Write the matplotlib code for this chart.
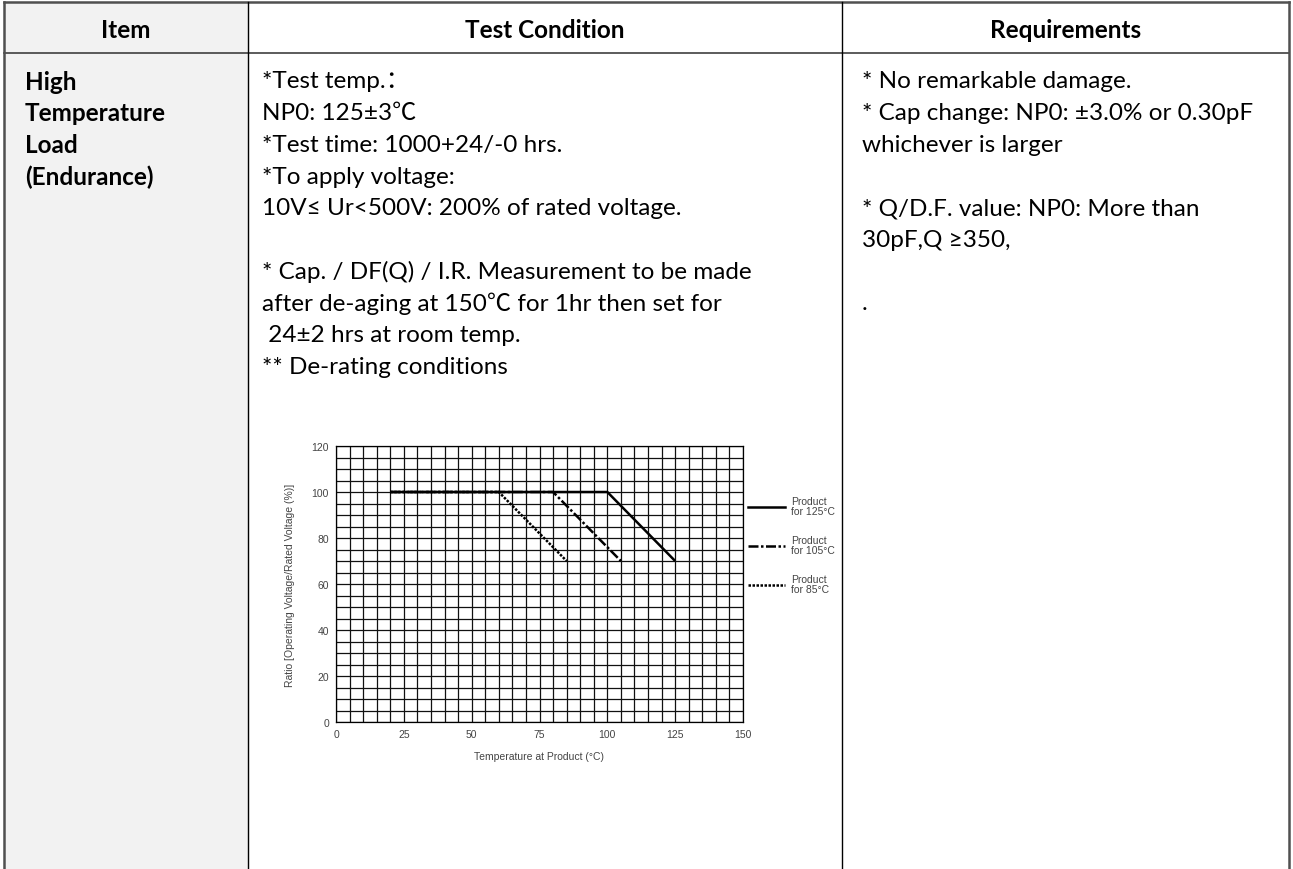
import matplotlib.pyplot as plt
from matplotlib.patches import Rectangle
from matplotlib.ticker import MultipleLocator

# data for the de-rating chart
temp_125 = [20, 100, 125]
ratio_125 = [100, 100, 70]
temp_105 = [20, 80, 105]
ratio_105 = [100, 100, 70]
temp_85 = [20, 60, 85]
ratio_85 = [100, 100, 70]
legend_labels = ["Product\nfor 125°C", "Product\nfor 105°C", "Product\nfor 85°C"]
x_ticks = [0, 25, 50, 75, 100, 125, 150]
y_ticks = [0, 20, 40, 60, 80, 100, 120]

# table text
headers = ["Item", "Test Condition", "Requirements"]
item_lines = ["High", "Temperature", "Load", "(Endurance)"]
cond_lines = ["*Test temp.：",
              "NP0: 125±3℃",
              "*Test time: 1000+24/-0 hrs.",
              "*To apply voltage:",
              "10V≤ Ur<500V: 200% of rated voltage.",
              "",
              "* Cap. / DF(Q) / I.R. Measurement to be made",
              "after de-aging at 150℃ for 1hr then set for",
              " 24±2 hrs at room temp.",
              "** De-rating conditions"]
req_lines = ["* No remarkable damage.",
             "* Cap change: NP0: ±3.0% or 0.30pF",
             "whichever is larger",
             "",
             "* Q/D.F. value: NP0: More than",
             "30pF,Q ≥350,",
             "",
             "."]

W, H = 1293, 870
fig = plt.figure(figsize=(W / 100, H / 100), dpi=100)
tab = fig.add_axes([0, 0, 1, 1])
tab.set_xlim(0, W)
tab.set_ylim(H, 0)
tab.axis("off")

fam = ["Lato", "Noto Sans CJK SC", "DejaVu Sans"]
col_x = [4, 248, 842, 1289]
top, head_bot = 3, 54
fs = 17.5

# gray item column
tab.add_patch(Rectangle((col_x[0], top), col_x[1] - col_x[0], H - top, color="#f2f2f2", zorder=0))

# table rules
tab.plot([col_x[0], col_x[-1]], [top, top], color="#505050", lw=1.8)
tab.plot([col_x[0], col_x[-1]], [head_bot, head_bot], color="#404040", lw=1.2)
for i, x in enumerate(col_x):
    edge = i in (0, 3)
    tab.plot([x, x], [top, H], color="#505050" if edge else "black", lw=1.8 if edge else 1.0)

# header texts
for i, h in enumerate(headers):
    tab.text((col_x[i] + col_x[i + 1]) / 2, 30, h, ha="center", va="center",
             fontsize=fs, fontweight="bold", family=fam)

line0, dy = 82, 31.7
for k, s in enumerate(item_lines):
    tab.text(25, line0 + k * dy, s, ha="left", va="center", fontsize=fs, fontweight="bold", family=fam)
for k, s in enumerate(cond_lines):
    tab.text(262, line0 + k * dy, s, ha="left", va="center", fontsize=fs, family=fam)
for k, s in enumerate(req_lines):
    tab.text(862, line0 + k * dy, s, ha="left", va="center", fontsize=fs, family=fam)

# chart
x0, x1, y0, y1 = 336, 743, 447, 723
ax = fig.add_axes([x0 / W, 1 - y1 / H, (x1 - x0) / W, (y1 - y0) / H])
ax.set_xlim(0, 150)
ax.set_ylim(0, 120)
ax.xaxis.set_minor_locator(MultipleLocator(5))
ax.yaxis.set_minor_locator(MultipleLocator(5))
ax.set_xticks(x_ticks)
ax.set_yticks(y_ticks)
ax.grid(which="both", color="#111111", lw=0.9)
ax.tick_params(which="both", length=0, labelsize=7.5, labelcolor="#444444", pad=5)
for lab in ax.get_xticklabels() + ax.get_yticklabels():
    lab.set_family("Liberation Sans")
for sp in ax.spines.values():
    sp.set_linewidth(0.9)

ax.plot(temp_125, ratio_125, color="black", lw=1.8, solid_capstyle="butt")
ax.plot(temp_105, ratio_105, color="black", lw=1.8, linestyle=(0, (4, 1, 1, 1)))
ax.plot(temp_85, ratio_85, color="black", lw=1.8, linestyle=(0, (1, 0.6)))
ax.set_xlabel("Temperature at Product (°C)", fontsize=7.5, color="#444444", family="Liberation Sans", labelpad=9)
ax.set_ylabel("Ratio [Operating Voltage/Rated Voltage (%)]", fontsize=7.5, color="#444444",
              family="Liberation Sans", labelpad=12)

# legend drawn beside the chart
styles = ["-", (0, (4, 1, 1, 1)), (0, (1, 0.6))]
for k, (lab, ls) in enumerate(zip(legend_labels, styles)):
    yy = 508 + k * 39
    tab.plot([748, 785], [yy, yy], color="black", lw=1.8, linestyle=ls)
    tab.text(791, yy - 1, lab, ha="left", va="center", fontsize=7.5, color="#444444",
             family="Liberation Sans", linespacing=0.95)

fig.savefig("out.png", dpi=100)
